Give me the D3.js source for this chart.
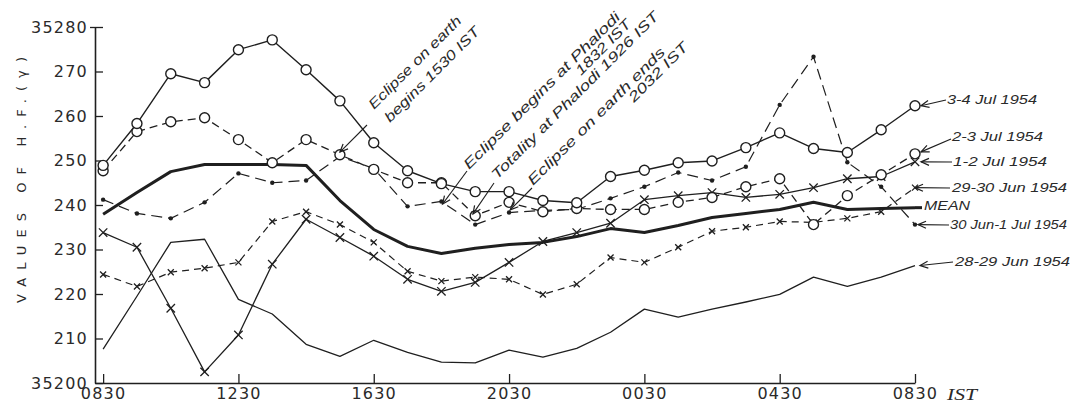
<!DOCTYPE html>
<html><head><meta charset="utf-8">
<script src="https://cdn.jsdelivr.net/npm/d3@7"></script>
<style>
body{margin:0;background:#fff;}
svg{display:block;background:#fff;}
</style></head><body>
<svg id="c" width="1072" height="405"></svg>
<script>
// hourly readings, 0 = 0830 IST ... 24 = 0830 IST next day
const hours = d3.range(25);
const xTickHours = [0, 4, 8, 12, 16, 20, 24];
const xTickLabels = ["0830", "1230", "1630", "2030", "0030", "0430", "0830"];
const yTicks = [200, 210, 220, 230, 240, 250, 260, 270, 280];
const yTickLabels = ["35200", "210", "220", "230", "240", "250", "260", "270", "35280"];

// H.F. values (gamma above 35200 offset shown as 35200..35280)
const jul3_4 = [248.9, 258.3, 269.5, 267.5, 274.9, 277.1, 270.4, 263.4, 254.0, 247.7, 244.8, 243.0, 243.0, 241.0, 240.5, 246.4, 247.8, 249.5, 249.9, 252.9, 256.2, 252.7, 251.8, 256.9, 262.3];
const jul2_3 = [247.7, 256.5, 258.7, 259.6, 254.7, 249.5, 254.7, 251.3, 248.0, 245.0, 245.0, 237.6, 240.6, 238.5, 239.2, 239.0, 239.0, 240.6, 241.7, 244.1, 245.9, 235.6, 242.1, 246.8, 251.5];
const jul1_2 = [233.8, 230.5, 216.8, 202.5, 210.8, 226.7, 236.8, 232.7, 228.5, 223.3, 220.6, 222.6, 227.1, 231.8, 233.8, 235.9, 241.2, 242.1, 242.8, 241.7, 242.4, 243.9, 245.9, 246.4, 249.7];
const jun30_jul1 = [241.2, 238.1, 237.0, 240.6, 247.1, 245.0, 245.5, 250.9, 248.2, 239.7, 240.8, 235.6, 238.3, 238.8, 239.0, 241.5, 244.1, 247.3, 245.5, 248.6, 262.5, 273.3, 249.6, 244.1, 235.6];
const jun29_30 = [224.4, 221.7, 224.9, 225.8, 227.1, 236.3, 238.5, 235.6, 231.6, 225.1, 222.9, 223.8, 223.3, 219.9, 222.2, 228.2, 227.1, 230.5, 234.1, 235.0, 236.3, 236.1, 237.0, 238.5, 243.9];
const jun28_29 = [207.6, 219.5, 231.6, 232.3, 218.8, 215.5, 208.7, 206.0, 209.6, 206.9, 204.7, 204.5, 207.4, 205.8, 207.8, 211.4, 216.6, 214.8, 216.6, 218.2, 219.9, 223.8, 221.7, 223.8, 226.4];
const meanHF = [237.9, 242.8, 247.5, 249.1, 249.1, 249.1, 248.9, 241.0, 234.5, 230.7, 229.1, 230.3, 231.1, 231.6, 232.9, 234.7, 233.8, 235.4, 237.2, 238.1, 239.0, 240.6, 239.0, 239.2, 239.4];

// eclipse event times in hours after 0830 IST
const eventTimes = [7, 10 + 2/60, 10 + 56/60, 12 + 2/60];
const eventTexts = [
  ["Eclipse on earth", "begins 1530 IST"],
  ["Eclipse begins at Phalodi", "1832 IST"],
  ["Totality at Phalodi 1926 IST"],
  ["Eclipse on earth ends", "2032 IST"]
];
const eventValues = [251.9, 240.2, 238.0, 238.9];

const ink = "#1f1f1f";
const svg = d3.select("#c");
const x = d3.scaleLinear().domain([-0.24, 24]).range([95, 915]);
const y = d3.scaleLinear().domain([200, 280]).range([383, 27]);

// arrow marker
const defs = svg.append("defs");
defs.append("marker").attr("id", "arr").attr("viewBox", "-10 -6 12 12")
  .attr("refX", 0).attr("refY", 0).attr("markerWidth", 12).attr("markerHeight", 12)
  .attr("markerUnits", "userSpaceOnUse").attr("orient", "auto")
  .append("path").attr("d", "M-8,-3.5L0,0L-8,3.5").attr("fill", "none")
  .attr("stroke", ink).attr("stroke-width", 1.2);

// axes
const yAxis = d3.axisLeft(y).tickValues(yTicks).tickFormat((d, i) => yTickLabels[i])
  .tickSize(-8).tickSizeOuter(0).tickPadding(7);
const gy = svg.append("g").attr("transform", "translate(95,0)").call(yAxis);
const xAxis = d3.axisBottom(x).tickValues(xTickHours).tickFormat((d, i) => xTickLabels[i])
  .tickSize(-9).tickSizeOuter(0).tickPadding(5);
const gx = svg.append("g").attr("transform", "translate(0,383)").call(xAxis);
[gx, gy].forEach(g => {
  g.select(".domain").attr("stroke", ink).attr("stroke-width", 1.6);
  g.selectAll(".tick line").attr("stroke", ink).attr("stroke-width", 1.3);
  g.selectAll(".tick text").attr("fill", "#2a2a2a").style("font-family", "DejaVu Sans")
    .style("font-size", "16px").style("letter-spacing", "1.2px");
});
gy.select(".tick:last-of-type line").attr("x1", -5);
svg.append("text").attr("x", 947).attr("y", 400).text("IST")
  .attr("fill", "#2a2a2a").style("font-family", "Liberation Serif").style("font-style", "italic")
  .style("font-size", "16px").attr("textLength", 30).attr("lengthAdjust", "spacingAndGlyphs");

// y-axis title
svg.append("text").attr("transform", "translate(26,180) rotate(-90)")
  .attr("text-anchor", "middle").text("VALUES OF H.F.(γ)")
  .attr("fill", "#2a2a2a").style("font-family", "DejaVu Sans").style("font-size", "13px")
  .attr("textLength", 246).attr("lengthAdjust", "spacing");

const series = [
  { name: "28-29 Jun 1954", values: jun28_29, dash: null, w: 1.3, marker: "none" },
  { name: "29-30 Jun 1954", values: jun29_30, dash: "7,5", w: 1.2, marker: "x", size: 3 },
  { name: "30 Jun-1 Jul 1954", values: jun30_jul1, dash: "11,6", w: 1.2, marker: "dot" },
  { name: "1-2 Jul 1954", values: jul1_2, dash: null, w: 1.3, marker: "x", size: 4.2 },
  { name: "2-3 Jul 1954", values: jul2_3, dash: "8,5", w: 1.3, marker: "circle" },
  { name: "3-4 Jul 1954", values: jul3_4, dash: null, w: 1.4, marker: "circle" },
  { name: "MEAN", values: meanHF, dash: null, w: 3, marker: "none" }
];

const line = d3.line().x((d, i) => x(hours[i])).y(d => y(d));
const gl = svg.append("g");
series.forEach(s => {
  gl.append("path").attr("d", line(s.values)).attr("fill", "none")
    .attr("stroke", ink).attr("stroke-width", s.w)
    .attr("stroke-dasharray", s.dash).attr("stroke-linejoin", "round");
});
const gm = svg.append("g");
series.forEach(s => {
  const pts = s.values.map((v, i) => [x(hours[i]), y(v)]);
  if (s.marker === "circle") {
    gm.selectAll(null).data(pts).join("circle").attr("cx", d => d[0]).attr("cy", d => d[1])
      .attr("r", 5).attr("fill", "#fff").attr("stroke", ink).attr("stroke-width", 1.4);
  } else if (s.marker === "dot") {
    gm.selectAll(null).data(pts).join("circle").attr("cx", d => d[0]).attr("cy", d => d[1])
      .attr("r", 2.2).attr("fill", ink);
  } else if (s.marker === "x") {
    const k = s.size;
    gm.selectAll(null).data(pts).join("path")
      .attr("d", d => `M${d[0]-k},${d[1]-k}L${d[0]+k},${d[1]+k}M${d[0]-k},${d[1]+k}L${d[0]+k},${d[1]-k}`)
      .attr("stroke", ink).attr("stroke-width", 1.3);
  }
});

// right-hand series labels (layout positions)
const labelLayout = [
  { name: "3-4 Jul 1954", tx: 947, ty: 104, len: 90, ax: 946, ay: 100, dx: 6, dy: 0 },
  { name: "2-3 Jul 1954", tx: 952, ty: 141, len: 91, ax: 951, ay: 139, dx: 6, dy: -2 },
  { name: "1-2 Jul 1954", tx: 953, ty: 166, len: 94, ax: 952, ay: 162, dx: 6, dy: 0 },
  { name: "29-30 Jun 1954", tx: 952, ty: 192, len: 115, ax: 950, ay: 188, dx: 0, dy: 0 },
  { name: "MEAN", tx: 924, ty: 210, len: 46 },
  { name: "30 Jun-1 Jul 1954", tx: 950, ty: 229, len: 117, ax: 949, ay: 225, dx: 3, dy: 0 },
  { name: "28-29 Jun 1954", tx: 955, ty: 266, len: 115, ax: 953, ay: 262, dx: 5, dy: 0 }
];
const glab = svg.append("g");
labelLayout.forEach(L => {
  const s = series.find(q => q.name === L.name);
  const ex = x(24), ey = y(s.values[24]);
  if (L.name === "MEAN") {
    glab.append("line").attr("x1", ex).attr("y1", ey).attr("x2", ex + 7).attr("y2", ey)
      .attr("stroke", ink).attr("stroke-width", 3);
  } else {
    glab.append("line").attr("x1", L.ax).attr("y1", L.ay).attr("x2", ex + L.dx).attr("y2", ey + L.dy)
      .attr("stroke", ink).attr("stroke-width", 1.2).attr("marker-end", "url(#arr)");
  }
  glab.append("text").attr("x", L.tx).attr("y", L.ty).text(L.name)
    .attr("fill", "#2a2a2a").style("font-family", "Liberation Sans").style("font-style", "italic")
    .style("font-size", "13px").attr("textLength", L.len).attr("lengthAdjust", "spacingAndGlyphs");
});

// eclipse annotations (rotated text, arrows to event times)
const noteLayout = [
  { lines: [[374, 110, 125], [390, 123, 128]], from: [367, 125] },
  { lines: [[469, 170, 215], [581, 76, 72]], from: [467, 171] },
  { lines: [[497, 180, 230]], from: [494, 183] },
  { lines: [[533, 186, 188], [634, 103, 78]], from: [532, 188] }
];
const gn = svg.append("g");
noteLayout.forEach((N, k) => {
  N.lines.forEach((p, j) => {
    gn.append("text").attr("x", p[0]).attr("y", p[1])
      .attr("transform", `rotate(-45,${p[0]},${p[1]})`).text(eventTexts[k][j])
      .attr("fill", "#2a2a2a").style("font-family", "Liberation Sans").style("font-style", "italic")
      .style("font-size", "14px").attr("textLength", p[2]).attr("lengthAdjust", "spacingAndGlyphs");
  });
  gn.append("line").attr("x1", N.from[0]).attr("y1", N.from[1])
    .attr("x2", x(eventTimes[k])).attr("y2", y(eventValues[k]))
    .attr("stroke", ink).attr("stroke-width", 1.1).attr("marker-end", "url(#arr)");
});
</script>
</body></html>
